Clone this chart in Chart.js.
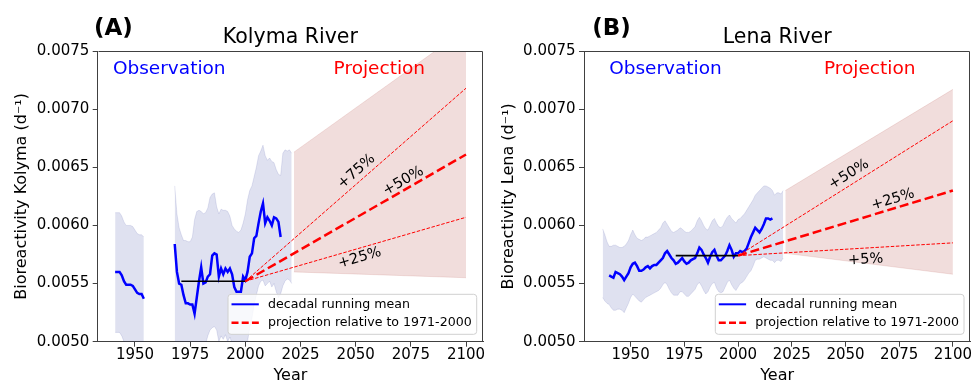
<!DOCTYPE html>
<html>
<head>
<meta charset="utf-8">
<script src="https://cdn.jsdelivr.net/npm/chart.js@4.4.1/dist/chart.umd.min.js"></script>
<style>
  html, body { margin: 0; padding: 0; background: #fff; overflow: hidden; }
  #wrap { position: relative; width: 973px; height: 382px; }
  canvas { position: absolute; top: 0; }
</style>
</head>
<body>
<div id="wrap">
  <canvas id="kolyma" width="490" height="382" style="left:0px"></canvas>
  <canvas id="lena" width="486" height="382" style="left:487px"></canvas>
</div>
<script>
// ---------------- data ----------------
const yearTicks = [1950, 1975, 2000, 2025, 2050, 2075, 2100];
const valueTicks = [0.0050, 0.0055, 0.0060, 0.0065, 0.0070, 0.0075];
const baselinePeriod = [1971, 2000];
const projectionYears = [2000, 2100];
const rangeYears = [2022, 2100];

// Kolyma River: decadal running mean of bioreactivity (d^-1)
const kolymaEarlyStart = 1941;   // 1941-1954
const kolymaEarlyMean  = [0.00560, 0.00560, 0.00560, 0.00557, 0.00552, 0.00549, 0.00549,
                          0.00549, 0.00548, 0.00545, 0.00542, 0.00541, 0.00541, 0.00537];
const kolymaEarlyUpper = [0.00611, 0.00611, 0.00611, 0.00608, 0.00603, 0.00600, 0.00600,
                          0.00600, 0.00599, 0.00596, 0.00593, 0.00592, 0.00592, 0.00590];
const kolymaEarlyLower = [0.00508, 0.00508, 0.00508, 0.00505, 0.00500, 0.00497, 0.00497,
                          0.00497, 0.00496, 0.00493, 0.00490, 0.00489, 0.00489, 0.00485];

const kolymaLateStart = 1968;    // 1968-2016
const kolymaLateMean = [
  0.00584, 0.00560, 0.00550, 0.00549, 0.00540, 0.00533, 0.00533, 0.00532, 0.00532, 0.00524,
  0.00538, 0.00552, 0.00564, 0.00550, 0.00551, 0.00556, 0.00558, 0.00574, 0.00576, 0.00575,
  0.00556, 0.00563, 0.00558, 0.00563, 0.00560, 0.00563, 0.00558, 0.00547, 0.00543, 0.00543,
  0.00543, 0.00556, 0.00553, 0.00560, 0.00573, 0.00576, 0.00589, 0.00591, 0.00602, 0.00612,
  0.00619, 0.00602, 0.00607, 0.00604, 0.00600, 0.00607, 0.00606, 0.00603, 0.00590
];
const kolymaSpreadStart = 1968;  // 1968-2021
const kolymaLateUpper = [
  0.00634, 0.00610, 0.00598, 0.00592, 0.00587, 0.00587, 0.00586, 0.00586, 0.00590, 0.00605,
  0.00612, 0.00613, 0.00612, 0.00610, 0.00611, 0.00615, 0.00624, 0.00627, 0.00628, 0.00616,
  0.00610, 0.00614, 0.00613, 0.00613, 0.00612, 0.00608, 0.00600, 0.00597, 0.00595, 0.00594,
  0.00596, 0.00602, 0.00610, 0.00622, 0.00630, 0.00634, 0.00642, 0.00650, 0.00660, 0.00664,
  0.00669, 0.00660, 0.00656, 0.00658, 0.00655, 0.00654, 0.00648, 0.00644, 0.00643, 0.00662,
  0.00665, 0.00664, 0.00665, 0.00662
];
const kolymaLateLower = [
  0.00484, 0.00480, 0.00482, 0.00485, 0.00478, 0.00475, 0.00478, 0.00480, 0.00475, 0.00470,
  0.00478, 0.00490, 0.00500, 0.00496, 0.00498, 0.00505, 0.00510, 0.00512, 0.00513, 0.00510,
  0.00500, 0.00505, 0.00502, 0.00506, 0.00500, 0.00504, 0.00498, 0.00490, 0.00488, 0.00490,
  0.00492, 0.00498, 0.00495, 0.00500, 0.00512, 0.00520, 0.00532, 0.00540, 0.00548, 0.00552,
  0.00553, 0.00548, 0.00550, 0.00552, 0.00547, 0.00550, 0.00543, 0.00538, 0.00541, 0.00548,
  0.00552, 0.00554, 0.00553, 0.00550
];
const kolymaBaseline = 0.00552;                  // 1971-2000 mean
const kolymaProjLabels = ['+25%', '+50%', '+75%'];
const kolymaProjEnd = [0.00607, 0.00661, 0.00718]; // value reached in 2100
const kolymaRangeUpper = [0.00663, 0.00769];
const kolymaRangeLower = [0.00560, 0.00555];

// Lena River
const lenaMeanStart = 1940;      // 1940-2016
const lenaMean = [
  0.00557, 0.00556, 0.00555, 0.00560, 0.00559, 0.00558, 0.00556, 0.00553, 0.00556, 0.00559,
  0.00564, 0.00567, 0.00568, 0.00565, 0.00561, 0.00561, 0.00562, 0.00564, 0.00565, 0.00563,
  0.00565, 0.00566, 0.00566, 0.00568, 0.00570, 0.00572, 0.00576, 0.00578, 0.00575, 0.00572,
  0.00570, 0.00567, 0.00568, 0.00570, 0.00572, 0.00569, 0.00567, 0.00568, 0.00570, 0.00571,
  0.00572, 0.00576, 0.00581, 0.00579, 0.00575, 0.00572, 0.00568, 0.00573, 0.00577, 0.00579,
  0.00574, 0.00570, 0.00570, 0.00572, 0.00574, 0.00578, 0.00583, 0.00579, 0.00573, 0.00576,
  0.00576, 0.00578, 0.00577, 0.00578, 0.00580, 0.00585, 0.00590, 0.00594, 0.00598, 0.00596,
  0.00594, 0.00597, 0.00601, 0.00606, 0.00606, 0.00605, 0.00606
];
const lenaSpreadStart = 1937;    // 1937-2021
const lenaUpper = [
  0.00597, 0.00592, 0.00586, 0.00582, 0.00582, 0.00583, 0.00583, 0.00582, 0.00581, 0.00581,
  0.00582, 0.00584, 0.00587, 0.00592, 0.00596, 0.00592, 0.00589, 0.00588, 0.00587, 0.00588,
  0.00590, 0.00590, 0.00591, 0.00592, 0.00593, 0.00594, 0.00596, 0.00598, 0.00602, 0.00604,
  0.00601, 0.00598, 0.00595, 0.00594, 0.00595, 0.00596, 0.00598, 0.00597, 0.00595, 0.00594,
  0.00594, 0.00595, 0.00597, 0.00599, 0.00604, 0.00607, 0.00604, 0.00600, 0.00597, 0.00596,
  0.00600, 0.00604, 0.00606, 0.00602, 0.00599, 0.00598, 0.00600, 0.00604, 0.00607, 0.00609,
  0.00606, 0.00604, 0.00602, 0.00605, 0.00606, 0.00608, 0.00610, 0.00613, 0.00616, 0.00619,
  0.00622, 0.00626, 0.00628, 0.00630, 0.00632, 0.00634, 0.00634, 0.00633, 0.00632, 0.00630,
  0.00626, 0.00628, 0.00628, 0.00627, 0.00630
];
const lenaLower = [
  0.00538, 0.00535, 0.00533, 0.00532, 0.00529, 0.00527, 0.00527, 0.00528, 0.00528, 0.00527,
  0.00525, 0.00529, 0.00533, 0.00538, 0.00541, 0.00539, 0.00537, 0.00535, 0.00534, 0.00536,
  0.00538, 0.00539, 0.00540, 0.00541, 0.00542, 0.00543, 0.00544, 0.00546, 0.00549, 0.00551,
  0.00549, 0.00545, 0.00542, 0.00540, 0.00540, 0.00540, 0.00543, 0.00543, 0.00541, 0.00539,
  0.00539, 0.00541, 0.00543, 0.00545, 0.00549, 0.00551, 0.00548, 0.00544, 0.00541, 0.00543,
  0.00547, 0.00550, 0.00551, 0.00546, 0.00543, 0.00542, 0.00543, 0.00547, 0.00551, 0.00553,
  0.00549, 0.00546, 0.00544, 0.00547, 0.00550, 0.00551, 0.00553, 0.00556, 0.00559, 0.00561,
  0.00565, 0.00570, 0.00571, 0.00571, 0.00572, 0.00573, 0.00572, 0.00571, 0.00570, 0.00570,
  0.00568, 0.00570, 0.00570, 0.00569, 0.00572
];
const lenaBaseline = 0.00574;
const lenaProjLabels = ['+5%', '+25%', '+50%'];
const lenaProjEnd = [0.00585, 0.00630, 0.00690];
const lenaRangeUpper = [0.00630, 0.00717];
const lenaRangeLower = [0.00576, 0.00558];

const legendLabels = ['decadal running mean', 'projection relative to 1971-2000'];

// ---------------- styling ----------------
const FONT = 'DejaVu Sans';
const AXIS = '#404040';
const OBS_BLUE = '#0000ff';
const PROJ_RED = '#ff0000';
const BAND_FILL = 'rgba(25, 40, 150, 0.14)';
const RANGE_FILL = 'rgba(165, 45, 40, 0.16)';

const series = (start, vals) => vals.map((v, i) => ({ x: start + i, y: v }));
const pairs = (xs, ys) => xs.map((x, i) => ({ x, y: ys[i] }));

function band(upper, lower, color, order) {
  return [
    { data: upper, showLine: true, pointRadius: 0, borderColor: color, borderWidth: 0.8,
      backgroundColor: color, fill: false, order },
    { data: lower, showLine: true, pointRadius: 0, borderColor: color, borderWidth: 0.8,
      backgroundColor: color, fill: '-1', order }
  ];
}

function buildDatasets(p) {
  const sets = [];
  p.spreads.forEach(s => sets.push(...band(s.upper, s.lower, BAND_FILL, 6)));
  sets.push(...band(p.rangeUpper, p.rangeLower, RANGE_FILL, 5));
  p.means.forEach(m => sets.push({
    data: m, showLine: true, pointRadius: 0, borderColor: OBS_BLUE, borderWidth: 2.5,
    fill: false, order: 3 }));
  sets.push({
    data: pairs(baselinePeriod, [p.baseline, p.baseline]), showLine: true, pointRadius: 0,
    borderColor: '#000', borderWidth: 1.6, fill: false, order: 2 });
  p.projEnd.forEach((end, i) => sets.push({
    data: pairs(projectionYears, [p.baseline, end]), showLine: true, pointRadius: 0,
    borderColor: PROJ_RED, borderWidth: i === 1 ? 2.5 : 1,
    borderDash: i === 1 ? [9, 4] : [3.5, 1.6], fill: false, order: 1 }));
  return sets;
}

// texts, frame and legend drawn over the plot
const panelDecor = {
  id: 'panelDecor',
  afterDraw(chart, args, o) {
    const p = o.panel;
    if (!p) return;
    const { ctx, chartArea: a, scales: { x, y } } = chart;
    ctx.save();

    // top and right spines
    ctx.strokeStyle = AXIS;
    ctx.lineWidth = 1;
    ctx.beginPath();
    const L = Math.round(a.left) + 0.5, R = Math.round(a.right) - 0.5, T = Math.round(a.top) + 0.5;
    ctx.moveTo(L, T); ctx.lineTo(R, T); ctx.lineTo(R, Math.round(a.bottom));
    ctx.stroke();

    // panel letter
    ctx.fillStyle = '#000';
    ctx.font = 'bold 23px "' + FONT + '"';
    ctx.textAlign = 'left';
    ctx.textBaseline = 'alphabetic';
    ctx.fillText(p.letter, p.letterX, 35);

    // period headings
    ctx.font = '18.5px "' + FONT + '"';
    ctx.fillStyle = OBS_BLUE;
    ctx.fillText('Observation', x.getPixelForValue(1940), y.getPixelForValue(0.0073));
    ctx.fillStyle = PROJ_RED;
    ctx.fillText('Projection', x.getPixelForValue(2040), y.getPixelForValue(0.0073));

    // projection labels, rotated along their line
    ctx.fillStyle = '#000';
    ctx.font = '14.5px "' + FONT + '"';
    ctx.textAlign = 'center';
    ctx.textBaseline = 'middle';
    p.projLabels.forEach((txt, i) => {
      const x0 = x.getPixelForValue(projectionYears[0]), y0 = y.getPixelForValue(p.baseline);
      const x1 = x.getPixelForValue(projectionYears[1]), y1 = y.getPixelForValue(p.projEnd[i]);
      const ang = Math.atan2(y1 - y0, x1 - x0);
      const pos = p.labelAt[i];
      ctx.save();
      ctx.translate(x.getPixelForValue(pos[0]), y.getPixelForValue(pos[1]));
      ctx.rotate(ang);
      ctx.fillText(txt, 0, 0);
      ctx.restore();
    });

    // legend
    ctx.font = '12.6px "' + FONT + '"';
    const tw = Math.max(...legendLabels.map(t => ctx.measureText(t).width));
    const bw = 40 + tw + 5, bh = 40;
    const bx = a.right - 6.3 - bw, by = a.bottom - 7.4 - bh;
    ctx.beginPath();
    ctx.roundRect(bx, by, bw, bh, 3);
    ctx.fillStyle = 'rgba(255,255,255,0.8)';
    ctx.fill();
    ctx.strokeStyle = '#d0d0d0';
    ctx.lineWidth = 1;
    ctx.stroke();
    const rows = [by + 10, by + 28.4];
    ctx.lineWidth = 2;
    ctx.strokeStyle = OBS_BLUE;
    ctx.beginPath(); ctx.moveTo(bx + 3.5, rows[0]); ctx.lineTo(bx + 30.8, rows[0]); ctx.stroke();
    ctx.lineWidth = 2.5;
    ctx.strokeStyle = PROJ_RED;
    ctx.setLineDash([7, 3.2]);
    ctx.beginPath(); ctx.moveTo(bx + 3.5, rows[1]); ctx.lineTo(bx + 30.8, rows[1]); ctx.stroke();
    ctx.setLineDash([]);
    ctx.fillStyle = '#000';
    ctx.textAlign = 'left';
    ctx.textBaseline = 'middle';
    legendLabels.forEach((t, i) => ctx.fillText(t, bx + 40, rows[i]));

    ctx.restore();
  }
};

function makePanel(id, p) {
  const font = (size, extra) => Object.assign({ family: FONT, size }, extra || {});
  return new Chart(document.getElementById(id), {
    type: 'scatter',
    data: { datasets: buildDatasets(p) },
    plugins: [panelDecor],
    options: {
      responsive: false,
      animation: false,
      devicePixelRatio: 1,
      layout: { padding: { left: 0, right: p.padRight, top: 25.2, bottom: 0 } },
      plugins: {
        legend: { display: false },
        tooltip: { enabled: false },
        title: { display: true, text: p.title, fullSize: false, color: '#000',
                 font: font(20.5, { weight: 'normal', lineHeight: 1.2 }),
                 padding: { top: 0, bottom: 1.2 } },
        panelDecor: { panel: p }
      },
      scales: {
        x: {
          type: 'linear', min: p.xMin, max: p.xMax,
          afterBuildTicks: s => { s.ticks = yearTicks.map(v => ({ value: v })); },
          afterFit: s => { s.height = 40.3; },
          ticks: { color: '#000', font: font(15, { lineHeight: 1 }), padding: 0.5,
                   maxRotation: 0, autoSkip: false, callback: v => String(v) },
          grid: { display: true, drawOnChartArea: false, drawTicks: true, tickLength: 5, color: AXIS },
          border: { display: true, color: AXIS, width: 1 },
          title: { display: true, text: 'Year', color: '#000',
                   font: font(16, { lineHeight: 1 }), padding: { top: 0, bottom: -1.8 } }
        },
        y: {
          type: 'linear', min: 0.005, max: 0.0075,
          afterBuildTicks: s => { s.ticks = valueTicks.map(v => ({ value: v })); },
          afterFit: s => { s.width = p.yAxisWidth; },
          ticks: { color: '#000', font: font(15), padding: 3.4, callback: v => v.toFixed(4) },
          grid: { display: true, drawOnChartArea: false, drawTicks: true, tickLength: 5, color: AXIS },
          border: { display: true, color: AXIS, width: 1 },
          title: { display: true, text: p.yTitle, color: '#000',
                   font: font(16, { lineHeight: 1.2 }), padding: { top: 12.1, bottom: 0 } }
        }
      }
    }
  });
}

makePanel('kolyma', {
  title: 'Kolyma River', letter: '(A)', letterX: 94,
  yTitle: 'Bioreactivity Kolyma (d\u207B\u00B9)',
  xMin: 1933.1, xMax: 2107.7, yAxisWidth: 97.7, padRight: 7,
  means: [series(kolymaEarlyStart, kolymaEarlyMean), series(kolymaLateStart, kolymaLateMean)],
  spreads: [
    { upper: series(kolymaEarlyStart, kolymaEarlyUpper), lower: series(kolymaEarlyStart, kolymaEarlyLower) },
    { upper: series(kolymaSpreadStart, kolymaLateUpper), lower: series(kolymaSpreadStart, kolymaLateLower) }
  ],
  rangeUpper: pairs(rangeYears, kolymaRangeUpper),
  rangeLower: pairs(rangeYears, kolymaRangeLower),
  baseline: kolymaBaseline,
  projEnd: kolymaProjEnd,
  projLabels: kolymaProjLabels,
  labelAt: [[2051.8, 0.00572], [2071.6, 0.006381], [2050.4, 0.006464]]
});

makePanel('lena', {
  title: 'Lena River', letter: '(B)', letterX: 105.3,
  yTitle: 'Bioreactivity Lena (d\u207B\u00B9)',
  xMin: 1928.3, xMax: 2108.1, yAxisWidth: 97, padRight: 2.7,
  means: [series(lenaMeanStart, lenaMean)],
  spreads: [{ upper: series(lenaSpreadStart, lenaUpper), lower: series(lenaSpreadStart, lenaLower) }],
  rangeUpper: pairs(rangeYears, lenaRangeUpper),
  rangeLower: pairs(rangeYears, lenaRangeLower),
  baseline: lenaBaseline,
  projEnd: lenaProjEnd,
  projLabels: lenaProjLabels,
  labelAt: [[2059.4, 0.005705], [2072.1, 0.006222], [2051.6, 0.006438]]
});
</script>
</body>
</html>
